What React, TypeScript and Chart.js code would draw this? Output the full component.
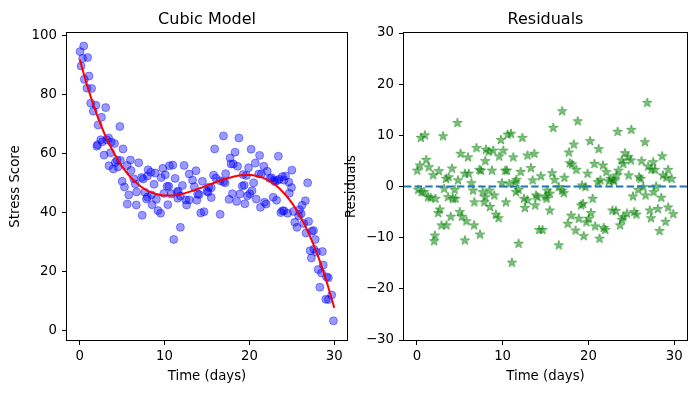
import React, { useEffect, useRef } from 'react';
import { Chart, registerables } from 'chart.js';

Chart.register(...registerables);

// ---- data ----
const days = [
  0.04, 0.16, 0.35, 0.47, 0.54, 0.85, 0.93, 1.09, 1.3, 1.4,
  1.6, 1.9, 2.02, 2.1, 2.17, 2.48, 2.56, 2.67, 2.87, 3.06,
  3.18, 3.4, 3.45, 3.64, 3.7, 3.95, 4.1, 4.2, 4.4, 4.5,
  4.73, 4.8, 5.0, 5.1, 5.27, 5.6, 5.6, 5.78, 5.97, 6.05,
  6.36, 6.55, 6.67, 6.7, 6.95, 7.29, 7.36, 7.48, 7.67, 7.86,
  7.98, 7.98, 8.06, 8.37, 8.45, 8.53, 8.76, 8.9, 9.03, 9.22,
  9.53, 9.6, 9.8, 9.92, 10.08, 10.3, 10.39, 10.5, 10.58, 10.77,
  10.97, 11.08, 11.24, 11.47, 11.55, 11.6, 11.86, 11.86, 12.1, 12.3,
  12.5, 12.6, 12.9, 12.9, 13.3, 13.5, 13.7, 13.8, 13.9, 14.07,
  14.26, 14.46, 14.65, 15.0, 15.12, 15.2, 15.5, 15.5, 15.77, 15.9,
  16.05, 16.55, 16.55, 16.94, 16.94, 17.13, 17.2, 17.6, 17.72, 17.83,
  17.99, 18.1, 18.3, 18.5, 18.6, 18.76, 18.88, 19.15, 19.26, 19.38,
  19.46, 19.65, 19.77, 19.9, 20.04, 20.2, 20.3, 20.5, 20.7, 20.8,
  21.1, 21.2, 21.3, 21.4, 21.7, 21.78, 21.97, 22.1, 22.4, 22.6,
  22.8, 22.9, 23.0, 23.2, 23.3, 23.41, 23.5, 23.7, 23.88, 23.9,
  24.07, 24.07, 24.26, 24.5, 24.65, 24.7, 24.96, 25.0, 25.2, 25.35,
  25.6, 25.81, 25.9, 26.1, 26.2, 26.4, 26.59, 26.67, 26.86, 26.97,
  27.16, 27.3, 27.36, 27.55, 27.6, 27.75, 27.9, 28.1, 28.3, 28.5,
  28.6, 28.7, 29.0, 29.1, 29.3, 29.3, 29.7, 29.9,
];

const stressScores = [
  94.7, 89.8, 92.4, 96.6, 85.3, 82.3, 92.7, 86.4, 77.2, 82.2,
  74.5, 76.5, 62.6, 63.1, 69.8, 64.8, 72.4, 64.1, 59.6, 75.7,
  64.8, 65.4, 56.0, 60.4, 64.0, 54.9, 63.5, 57.1, 57.9, 55.6,
  69.3, 57.8, 50.7, 61.7, 48.8, 56.1, 43.0, 46.1, 57.9, 54.4,
  51.6, 49.8, 42.7, 47.1, 57.0, 52.0, 39.2, 51.5, 47.0, 44.7,
  52.5, 45.4, 54.6, 53.8, 46.1, 42.8, 49.7, 53.5, 44.6, 40.8,
  39.9, 52.0, 55.1, 46.6, 52.9, 49.0, 42.8, 49.0, 56.0, 46.4,
  56.2, 31.0, 51.7, 47.0, 45.0, 47.4, 45.7, 35.1, 49.3, 56.1,
  44.4, 42.7, 53.2, 44.4, 51.1, 48.9, 54.3, 44.3, 46.4, 46.2,
  40.0, 50.7, 40.4, 47.4, 47.0, 48.7, 48.5, 45.2, 52.8, 61.7,
  51.8, 50.9, 39.5, 66.1, 50.6, 50.2, 53.3, 44.6, 58.6, 56.6,
  46.5, 56.6, 60.6, 43.9, 55.8, 65.4, 46.4, 49.1, 53.0, 49.4,
  43.1, 52.7, 45.8, 55.3, 46.5, 61.6, 47.5, 50.2, 56.9, 44.7,
  53.2, 59.5, 41.9, 53.2, 55.8, 43.6, 43.0, 54.1, 51.7, 51.9,
  45.3, 51.1, 50.6, 44.3, 51.0, 59.2, 51.4, 40.1, 52.3, 40.7,
  51.1, 40.7, 52.5, 39.9, 50.4, 46.7, 48.6, 54.5, 40.5, 36.8,
  35.1, 39.0, 41.1, 39.7, 42.6, 36.4, 44.1, 33.2, 50.2, 37.1,
  27.2, 24.7, 33.8, 34.0, 27.7, 31.0, 26.7, 20.8, 14.8, 19.6,
  26.9, 22.3, 10.7, 18.3, 18.0, 10.6, 12.2, 3.4,
];

const residuals = [
  3.1, -0.65, 4.1, 9.5, -1.1, -1.1, 10.0, 5.2, -2.1, 3.75,
  -2.2, 2.2, -10.7, -9.6, -2.4, -5.2, 3.0, -4.5, -7.6, 9.8,
  -0.45, 1.5, -7.6, -2.1, 1.8, -5.9, 3.5, -2.4, -0.65, -2.4,
  12.4, 1.2, -5.0, 6.4, -5.9, 2.5, -10.55, -6.8, 5.7, 2.5,
  0.65, -0.8, -7.6, -3.1, 7.5, 3.25, -9.4, 3.1, -1.1, -3.1,
  4.95, -2.1, 7.2, 6.8, -0.8, -4.0, 3.1, 7.0, -1.75, -5.5,
  -6.2, 5.86, 9.1, 0.65, 7.0, 3.1, -3.1, 3.1, 10.15, 0.5,
  10.3, -14.9, 5.7, 0.85, -1.1, 1.3, -0.65, -11.2, 2.85, 9.5,
  -2.4, -4.2, 6.05, -2.7, 3.6, 1.2, 6.4, -3.7, -1.75, -2.1,
  -8.5, 2.0, -8.5, -1.95, -2.4, -0.8, -1.4, -4.7, 2.6, 11.45,
  1.3, -0.13, -11.5, 14.7, -0.8, -1.3, 1.7, -7.3, 6.64, 4.55,
  -5.7, 4.3, 8.2, -8.6, 3.25, 12.75, -6.3, -3.7, 0.2, -3.4,
  -9.7, -0.13, -7.0, 2.5, -6.3, 8.85, -5.2, -2.4, 4.4, -7.8,
  0.85, 7.3, -10.2, 1.2, 4.1, -8.1, -8.5, 2.8, 1.0, 1.5,
  -4.7, 1.3, 1.0, -4.8, 2.15, 10.7, 3.1, -7.6, 5.1, -6.5,
  4.4, -6.0, 6.5, -5.3, 5.75, 2.15, 5.1, 11.07, -1.95, -5.0,
  -5.5, -0.65, 1.8, 1.5, 4.95, -0.13, 8.66, -1.75, 16.35, 3.9,
  -4.7, -6.2, 3.3, 4.75, -1.1, 3.25, 0.0, -4.4, -8.7, -2.2,
  5.9, 2.15, -6.9, 1.7, 3.25, -4.1, 1.5, -5.4,
];

// cubic model curve
const fitDays = [
  0, 1, 2, 3, 4, 5, 6, 7, 8, 9, 10, 11, 12, 13, 14, 15,
  16, 17, 18, 19, 20, 21, 22, 23, 24, 25, 26, 27, 28, 29, 30,
];
const fitValues = [
  92, 82.0, 73.5, 66.3, 60.5, 55.7, 52.1, 49.4, 47.5, 46.4, 45.88, 45.92, 46.4, 47.2, 48.2, 49.3,
  50.4, 51.4, 52.2, 52.75, 52.84, 52.4, 51.4, 49.6, 46.9, 43.4, 38.8, 33.0, 26.0, 17.6, 7.8,
];

const dayTicks = [0, 10, 20, 30];
const stressTicks = [0, 20, 40, 60, 80, 100];
const residualTicks = [-30, -20, -10, 0, 10, 20, 30];
const zeroLine = 0;

const FONT = "'DejaVu Sans', sans-serif";
const TICK_SIZE = 13.3;

function fmt(v: number) {
  return v < 0 ? '\u2212' + Math.abs(v) : String(v);
}

function makeStar(): HTMLCanvasElement {
  const c = document.createElement('canvas');
  c.width = 14;
  c.height = 14;
  const ctx = c.getContext('2d')!;
  const cx = 7, cy = 7, R = 5.0, r = 5.0 * 0.382;
  ctx.beginPath();
  for (let i = 0; i < 10; i++) {
    const rad = i % 2 === 0 ? R : r;
    const a = -Math.PI / 2 + (i * Math.PI) / 5;
    const x = cx + rad * Math.cos(a);
    const y = cy + rad * Math.sin(a);
    if (i === 0) ctx.moveTo(x, y);
    else ctx.lineTo(x, y);
  }
  ctx.closePath();
  ctx.fillStyle = 'rgba(0,128,0,0.5)';
  ctx.fill();
  ctx.strokeStyle = 'rgba(0,128,0,0.5)';
  ctx.lineWidth = 1;
  ctx.stroke();
  return c;
}

function framePlugin(title: string, drawZero: boolean) {
  return {
    id: 'frame_' + title.replace(/\s/g, ''),
    afterDatasetsDraw(chart: any) {
      const { ctx, chartArea } = chart;
      const { left, right, top, bottom } = chartArea;
      ctx.save();
      if (drawZero) {
        const y = chart.scales.y.getPixelForValue(zeroLine);
        ctx.strokeStyle = '#1f77b4';
        ctx.lineWidth = 2;
        ctx.setLineDash([7.4, 3.2]);
        ctx.beginPath();
        ctx.moveTo(left, y);
        ctx.lineTo(right, y);
        ctx.stroke();
        ctx.setLineDash([]);
      }
      ctx.strokeStyle = '#000';
      ctx.lineWidth = 1;
      ctx.strokeRect(Math.round(left) - 0.5, Math.round(top) - 0.5, Math.round(right) - Math.round(left) + 1, Math.round(bottom) - Math.round(top) + 1);
      ctx.fillStyle = '#000';
      ctx.font = `16px ${FONT}`;
      ctx.textAlign = 'center';
      ctx.textBaseline = 'alphabetic';
      ctx.fillText(title, (left + right) / 2, 24);
      ctx.restore();
    },
  };
}

function xScale() {
  return {
    type: 'linear' as const,
    position: 'bottom' as const,
    min: -1.5,
    max: 31.5,
    afterBuildTicks: (s: any) => {
      s.ticks = dayTicks.map((v) => ({ value: v }));
    },
    afterFit: (s: any) => {
      s.height = 53;
    },
    grid: { drawOnChartArea: false, drawTicks: true, tickLength: 5, color: '#000', lineWidth: 1 },
    border: { display: false },
    ticks: {
      color: '#000',
      font: { family: FONT, size: TICK_SIZE },
      padding: 4,
      maxRotation: 0,
      autoSkip: false,
      callback: (v: any) => fmt(Number(v)),
    },
    title: {
      display: true,
      text: 'Time (days)',
      color: '#000',
      font: { family: FONT, size: TICK_SIZE },
      padding: { top: 0, bottom: 8 },
    },
  };
}

function yScale(min: number, max: number, ticks: number[], label: string, width: number, titlePad: number) {
  return {
    type: 'linear' as const,
    position: 'left' as const,
    min,
    max,
    afterBuildTicks: (s: any) => {
      s.ticks = ticks.map((v) => ({ value: v }));
    },
    afterFit: (s: any) => {
      s.width = width;
    },
    grid: { drawOnChartArea: false, drawTicks: true, tickLength: 5, color: '#000', lineWidth: 1 },
    border: { display: false },
    ticks: {
      color: '#000',
      font: { family: FONT, size: TICK_SIZE },
      padding: 5,
      autoSkip: false,
      callback: (v: any) => fmt(Number(v)),
    },
    title: {
      display: true,
      text: label,
      color: '#000',
      font: { family: FONT, size: TICK_SIZE },
      padding: { top: titlePad, bottom: 0 },
    },
  };
}

export default function App() {
  const leftRef = useRef<HTMLCanvasElement>(null);
  const rightRef = useRef<HTMLCanvasElement>(null);

  useEffect(() => {
    const star = makeStar();
    const stressPoints = days.map((d, i) => ({ x: d, y: stressScores[i] }));
    const residualPoints = days.map((d, i) => ({ x: d, y: residuals[i] }));
    const fitPoints = fitDays.map((d, i) => ({ x: d, y: fitValues[i] }));

    const c1 = new Chart(leftRef.current!, {
      type: 'scatter',
      data: {
        datasets: [
          {
            type: 'line',
            label: 'fit',
            data: fitPoints,
            borderColor: 'red',
            borderWidth: 2,
            pointRadius: 0,
            showLine: true,
            fill: false,
            cubicInterpolationMode: 'monotone',
            order: 0,
          } as any,
          {
            label: 'data',
            data: stressPoints,
            backgroundColor: 'rgba(0,0,255,0.4)',
            borderColor: 'rgba(0,0,255,0.4)',
            borderWidth: 1,
            pointRadius: 4,
            order: 1,
          },
        ],
      },
      options: {
        responsive: false,
        animation: false,
        devicePixelRatio: 1,
        layout: { padding: { left: 0, right: 13, top: 33, bottom: 0 } },
        plugins: { legend: { display: false }, tooltip: { enabled: false }, title: { display: false } },
        scales: {
          x: xScale(),
          y: yScale(-3.1, 101, stressTicks, 'Stress Score', 67, 8),
        },
      } as any,
      plugins: [framePlugin('Cubic Model', false)],
    });

    const c2 = new Chart(rightRef.current!, {
      type: 'scatter',
      data: {
        datasets: [
          {
            label: 'residuals',
            data: residualPoints,
            pointStyle: star as any,
            pointRadius: 5,
            backgroundColor: 'rgba(0,128,0,0.5)',
            borderColor: 'rgba(0,128,0,0.5)',
          },
        ],
      },
      options: {
        responsive: false,
        animation: false,
        devicePixelRatio: 1,
        layout: { padding: { left: 0, right: 8, top: 33, bottom: 0 } },
        plugins: { legend: { display: false }, tooltip: { enabled: false }, title: { display: false } },
        scales: {
          x: xScale(),
          y: yScale(-30, 30, residualTicks, 'Residuals', 69, 9),
        },
      } as any,
      plugins: [framePlugin('Residuals', true)],
    });

    return () => {
      c1.destroy();
      c2.destroy();
    };
  }, []);

  return (
    <div style={{ position: 'fixed', left: 0, top: 0, width: 695, height: 393, background: '#fff' }}>
      <canvas
        ref={leftRef}
        width={360}
        height={393}
        style={{ position: 'absolute', left: 0, top: 0, width: 360, height: 393 }}
      />
      <canvas
        ref={rightRef}
        width={360}
        height={393}
        style={{ position: 'absolute', left: 335, top: 0, width: 360, height: 393 }}
      />
    </div>
  );
}
